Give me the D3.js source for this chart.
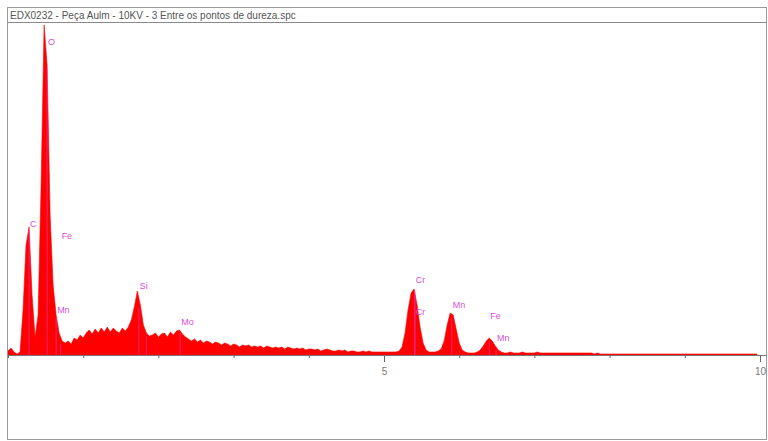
<!DOCTYPE html>
<html>
<head>
<meta charset="utf-8">
<script src="https://cdn.jsdelivr.net/npm/d3@7"></script>
<style>
  body { margin: 0; background: #fff; }
  svg { display: block; font-family: "Liberation Sans", Arial, sans-serif; }
</style>
</head>
<body>
<div id="chart"></div>
<script>
var svgWidth = 768;
var svgHeight = 441;

// spectrum title
var title = "EDX0232 - Peça Aulm - 10KV - 3 Entre os pontos de dureza.spc";

// channel width of the spectrum (keV)
var channelWidth = 0.04;

// counts per channel (channel 0 = 0 keV)
var counts = [
    4, 7, 3, 1, 3, 45, 110, 128, 60, 18,
    40, 170, 330, 290, 140, 70, 40, 22, 14, 12,
    14, 11, 17, 15, 20, 17, 22, 25, 21, 26,
    22, 27, 23, 28, 23, 27, 24, 22, 27, 24,
    28, 35, 48, 64, 50, 30, 22, 19, 20, 22,
    18, 21, 22, 18, 23, 20, 24, 25, 21, 18,
    16, 14, 16, 13, 15, 12, 14, 13, 11, 13,
    12, 10, 12, 11, 9, 11, 10, 8, 10, 9,
    10, 8, 9, 8, 9, 7, 9, 8, 7, 8,
    7, 8, 6, 8, 7, 6, 7, 6, 7, 5,
    6, 6, 5, 6, 4, 5, 6, 5, 4, 4,
    5, 4, 5, 3, 4, 4, 3, 3, 4, 3,
    4, 3, 3, 3, 3, 3, 3, 3, 3, 3,
    4, 8, 22, 45, 62, 66, 50, 28, 12, 5,
    3, 3, 3, 4, 6, 14, 30, 42, 40, 26,
    12, 5, 3, 2, 2, 2, 3, 5, 9, 14,
    17, 14, 9, 5, 3, 2, 2, 3, 2, 2,
    2, 3, 2, 2, 2, 2, 3, 2, 2, 2,
    2, 2, 2, 2, 2, 2, 2, 2, 2, 2,
    2, 2, 2, 2, 2, 1, 2, 1, 1, 1,
    1, 1, 1, 1, 1, 1, 1, 1, 1, 1,
    1, 1, 1, 1, 1, 1, 1, 1, 1, 1,
    1, 1, 1, 1, 1, 1, 1, 1, 1, 1,
    1, 1, 1, 1, 1, 1, 1, 1, 1, 1,
    1, 1, 1, 1, 1, 1, 1, 1, 1, 1
];

// peak identification markers: element, energy (keV), label height (counts)
var peakNames = ["C", "O", "Fe", "Mn", "Si", "Si", "Mo", "Cr", "Cr", "Mn", "Fe", "Mn"];
var peakEnergies = [0.28, 0.52, 0.70, 0.64, 1.74, 1.84, 2.29, 5.41, 5.41, 5.90, 6.40, 6.49];
var peakLabelCounts = [128, 310, 116, 42, 66, 0, 30, 72, 40, 47, 36, 14];

// x-axis ticks (keV)
var tickValues = [0, 1, 2, 3, 4, 5, 6, 7, 8, 9, 10];
var tickLabels = { 5: "5", 10: "10" };

var frame = { left: 7.5, right: 766.5, top: 7.5, bottom: 439.5, titleBottom: 22.5 };
var baseline = 355;

var svg = d3.select("#chart")
    .append("svg")
    .attr("width", svgWidth)
    .attr("height", svgHeight);

var xScale = d3.scaleLinear()
    .domain([0, 10])
    .range([8, 760]);

var yScale = d3.scaleLinear()
    .domain([0, 330])
    .range([baseline, 25]);

var spectrum = counts.map((c, i) => ({ e: i * channelWidth, c: c }));

// clip so the tall peak stops under the title bar
svg.append("clipPath")
    .attr("id", "plotClip")
    .append("rect")
    .attr("x", frame.left)
    .attr("y", frame.titleBottom + 0.5)
    .attr("width", frame.right - frame.left)
    .attr("height", baseline - frame.titleBottom);

var area = d3.area()
    .x(d => xScale(d.e))
    .y0(baseline)
    .y1(d => yScale(d.c));

svg.append("path")
    .datum(spectrum)
    .attr("clip-path", "url(#plotClip)")
    .attr("fill", "#ff0000")
    .attr("stroke", "#ff0000")
    .attr("stroke-width", 0.6)
    .attr("d", area);

// peak marker lines (inside the fill) and labels
var markers = svg.append("g").attr("clip-path", "url(#plotClip)");

peakNames.forEach((name, i) => {
    var x = xScale(peakEnergies[i]);
    var ch = Math.round(peakEnergies[i] / channelWidth);
    markers.append("line")
        .attr("x1", x).attr("x2", x)
        .attr("y1", baseline).attr("y2", yScale(counts[ch]) + 3)
        .attr("stroke", "#e23fd8")
        .attr("stroke-opacity", 0.7)
        .attr("stroke-width", 0.8);
    if (peakLabelCounts[i] > 0) {
        markers.append("text")
            .attr("x", x + 1)
            .attr("y", yScale(peakLabelCounts[i]))
            .attr("font-size", 9)
            .attr("fill", "#d84fd8")
            .text(name);
    }
});

// frame and title bar
svg.append("rect")
    .attr("x", frame.left)
    .attr("y", frame.top)
    .attr("width", frame.right - frame.left)
    .attr("height", frame.bottom - frame.top)
    .attr("fill", "none")
    .attr("stroke", "#9a9a9a");

svg.append("line")
    .attr("x1", frame.left).attr("x2", frame.right)
    .attr("y1", frame.titleBottom).attr("y2", frame.titleBottom)
    .attr("stroke", "#8a8a8a");

svg.append("text")
    .attr("x", 10)
    .attr("y", 19)
    .attr("font-size", 10)
    .attr("fill", "#555")
    .text(title);

// x axis
var xAxis = svg.append("g")
    .attr("transform", `translate(0, ${baseline})`)
    .call(d3.axisBottom(xScale)
        .tickValues(tickValues)
        .tickSize(3)
        .tickFormat(d => tickLabels[d] || ""));

xAxis.select(".domain").remove();
xAxis.selectAll(".tick line").attr("stroke", "#666");
xAxis.selectAll(".tick")
    .filter(d => tickLabels[d])
    .select("line")
    .attr("y2", 7);
xAxis.selectAll(".tick text")
    .attr("y", 13)
    .attr("font-size", 10)
    .attr("fill", "#777")
    .attr("font-family", "Liberation Sans, Arial, sans-serif");

svg.append("line")
    .attr("x1", frame.left).attr("x2", frame.right)
    .attr("y1", baseline + 0.5).attr("y2", baseline + 0.5)
    .attr("stroke", "#777");
</script>
</body>
</html>
